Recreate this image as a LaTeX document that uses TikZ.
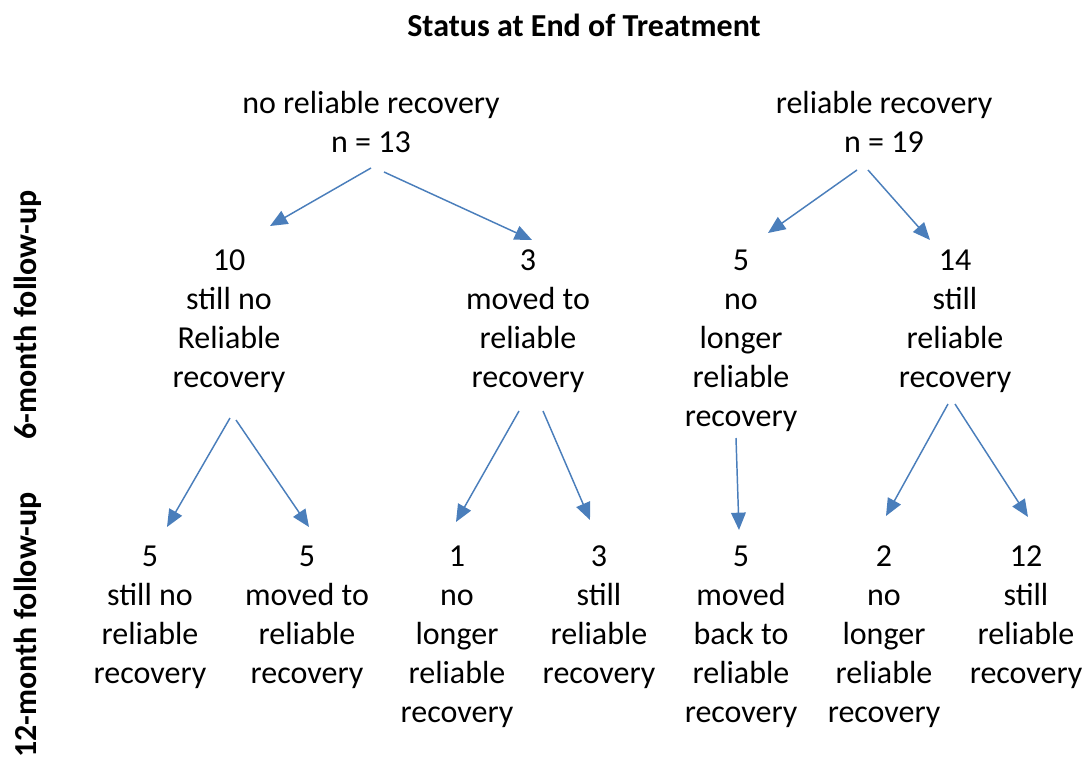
\documentclass[tikz,border=0pt]{standalone}
\usepackage{fontspec}
\setmainfont{Carlito}
\usetikzlibrary{arrows.meta,calc}
\definecolor{ArrowBlue}{HTML}{4A7EBB}

\begin{document}
\begin{tikzpicture}[x=0.75pt,y=-0.75pt,
      lbl/.style={align=center,inner sep=0pt,font=\fontsize{24}{29.3}\selectfont},
      side/.style={rotate=90,inner sep=0pt,font=\fontsize{24}{28}\selectfont\bfseries},
      arr/.style={-{Triangle[length=13pt,width=11pt]},line width=1.1pt,draw=ArrowBlue}]
      \useasboundingbox (0,0) rectangle (1089,761);
      \node[lbl,font=\fontsize{24}{28}\selectfont\bfseries] (title) at (584,25) {Status at End of Treatment};
      % end of treatment
      \node[lbl] (norec) at (371,122) {no reliable recovery\\n = 13};
      \node[lbl] (rec) at (884,122) {reliable recovery\\n = 19};
      % 6-month follow-up
      \node[lbl] (stillno) at (229,321) {10\\still no\\Reliable\\recovery};
      \node[lbl] (movedto) at (528,321) {3\\moved to\\reliable\\recovery};
      \node[lbl] (nolonger) at (741,341) {5\\no\\longer\\reliable\\recovery};
      \node[lbl] (stillrec) at (955,321) {14\\still\\reliable\\recovery};
      % 12-month follow-up
      \node[lbl] (snA) at (150,617) {5\\still no\\reliable\\recovery};
      \node[lbl] (mtB) at (307,617) {5\\moved to\\reliable\\recovery};
      \node[lbl] (nlC) at (457,637) {1\\no\\longer\\reliable\\recovery};
      \node[lbl] (srD) at (599,617) {3\\still\\reliable\\recovery};
      \node[lbl] (mbE) at (741,637) {5\\moved\\back to\\reliable\\recovery};
      \node[lbl] (nlF) at (884,637) {2\\no\\longer\\reliable\\recovery};
      \node[lbl] (srG) at (1026,617) {12\\still\\reliable\\recovery};
      \node[side] (six) at (28,315) {6-month follow-up};
      \node[side] (twelve) at (28,625) {12-month follow-up};
      \draw[arr] ($(norec)+(0,46)$) -- ($(stillno)+(41,-95)$);
      \draw[arr] ($(norec)+(13,50)$) -- ($(movedto)+(4,-81)$);
      \draw[arr] ($(rec)+(-27,48)$) -- ($(nolonger)+(27,-108)$);
      \draw[arr] ($(rec)+(-16,48)$) -- ($(stillrec)+(-25,-81)$);
      \draw[arr] ($(stillno)+(1,97)$) -- ($(snA)+(17,-90)$);
      \draw[arr] ($(stillno)+(7,99)$) -- ($(mtB)+(2,-90)$);
      \draw[arr] ($(movedto)+(-9,90)$) -- ($(nlC)+(-1,-115)$);
      \draw[arr] ($(movedto)+(15,90)$) -- ($(srD)+(-9,-97)$);
      \draw[arr] ($(nolonger)+(-5,97)$) -- ($(mbE)+(-2,-107)$);
      \draw[arr] ($(stillrec)+(-7,83)$) -- ($(nlF)+(2,-121)$);
      \draw[arr] ($(stillrec)+(0,83)$) -- ($(srG)+(2,-100)$);
    \end{tikzpicture}
\end{document}
